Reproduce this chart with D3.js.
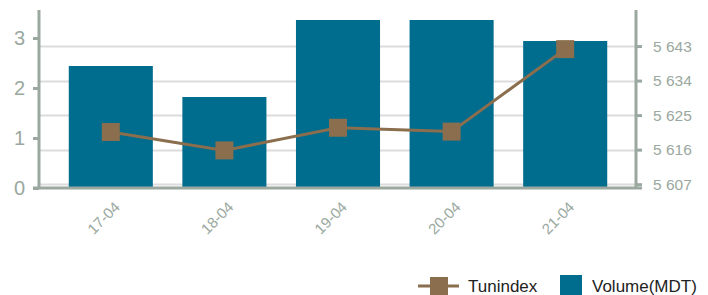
<!DOCTYPE html>
<html>
<head>
<meta charset="utf-8">
<script src="https://cdn.jsdelivr.net/npm/d3@7"></script>
<style>
	body { margin: 0; background: #fff; }
	text { font-family: "Liberation Sans", Arial, sans-serif; }
</style>
</head>
<body>
<script>
	var categories = ["17-04", "18-04", "19-04", "20-04", "21-04"];
	var volume = [2.44, 1.82, 3.36, 3.36, 2.94];
	var tunindex = [5620.6, 5615.8, 5621.7, 5620.7, 5642.2];
	var leftTicks = [0, 1, 2, 3];
	var rightTicks = [5607, 5616, 5625, 5634, 5643];

	(function(d3) {
	var width = 708;
	var height = 295;
	var axisColor = "#9aa8a0";
	var barColor = "#006c8e";
	var lineColor = "#8a6e4d";

	var svg = d3.select("body").append("svg")
		.attr("width", width)
		.attr("height", height);

	var plotLeft = 39, plotRight = 636, plotTop = 10, plotBottom = 188;

	var x = d3.scaleBand()
		.domain(categories)
		.range([54, 622])
		.paddingInner(0.26)
		.paddingOuter(0.13);

	var yLeft = d3.scaleLinear().domain([0, 3.56]).range([plotBottom, plotTop]);
	var yRight = d3.scaleLinear().domain([5606, 5652.4]).range([plotBottom, plotTop]);

	// grid lines follow the right axis
	svg.append("g").selectAll("line")
		.data(rightTicks)
		.enter().append("line")
		.attr("x1", plotLeft + 1)
		.attr("x2", plotRight - 1)
		.attr("y1", function(d) { return Math.round(yRight(d)) + 0.5; })
		.attr("y2", function(d) { return Math.round(yRight(d)) + 0.5; })
		.attr("stroke", "#dcdcdc")
		.attr("stroke-width", 2);

	// bars
	svg.append("g").selectAll("rect")
		.data(volume)
		.enter().append("rect")
		.attr("x", function(d, i) { return x(categories[i]); })
		.attr("width", x.bandwidth())
		.attr("y", function(d) { return yLeft(d); })
		.attr("height", function(d) { return plotBottom - yLeft(d); })
		.attr("fill", barColor);

	// left axis
	var gl = svg.append("g").attr("transform", "translate(" + plotLeft + ",0)");
	gl.call(d3.axisLeft(yLeft).tickValues(leftTicks).tickSize(6).tickPadding(8).tickFormat(d3.format("d")));
	gl.select(".domain").remove();
	gl.append("line").attr("x1", 0).attr("x2", 0).attr("y1", plotTop).attr("y2", plotBottom)
		.attr("stroke", axisColor).attr("stroke-width", 3);
	gl.selectAll(".tick line").attr("stroke", axisColor).attr("stroke-width", 3);
	gl.selectAll(".tick text").attr("fill", axisColor).attr("font-size", "20px");

	// right axis
	var gr = svg.append("g").attr("transform", "translate(" + plotRight + ",0)");
	gr.call(d3.axisRight(yRight).tickValues(rightTicks).tickSize(6).tickPadding(11)
		.tickFormat(function(d) { return d3.format(",")(d).replace(",", " "); }));
	gr.select(".domain").remove();
	gr.append("line").attr("x1", 0).attr("x2", 0).attr("y1", plotTop).attr("y2", plotBottom)
		.attr("stroke", axisColor).attr("stroke-width", 3);
	gr.selectAll(".tick line").attr("stroke", axisColor).attr("stroke-width", 3);
	gr.selectAll(".tick text").attr("fill", axisColor).attr("font-size", "15.5px");

	// bottom axis line
	svg.append("line")
		.attr("x1", 33).attr("x2", plotRight + 6)
		.attr("y1", plotBottom).attr("y2", plotBottom)
		.attr("stroke", axisColor).attr("stroke-width", 3);

	// x labels
	svg.append("g").selectAll("text")
		.data(categories)
		.enter().append("text")
		.attr("transform", function(d) {
			return "translate(" + (x(d) + x.bandwidth() / 2 + 10) + ",208) rotate(-45)";
		})
		.attr("text-anchor", "end")
		.attr("fill", axisColor)
		.attr("font-size", "15px")
		.text(function(d) { return d; });

	// line series
	var line = d3.line()
		.x(function(d, i) { return x(categories[i]) + x.bandwidth() / 2; })
		.y(function(d) { return yRight(d); });

	svg.append("path")
		.datum(tunindex)
		.attr("d", line)
		.attr("fill", "none")
		.attr("stroke", lineColor)
		.attr("stroke-width", 3);

	svg.append("g").selectAll("rect")
		.data(tunindex)
		.enter().append("rect")
		.attr("x", function(d, i) { return x(categories[i]) + x.bandwidth() / 2 - 9; })
		.attr("y", function(d) { return yRight(d) - 9; })
		.attr("width", 18)
		.attr("height", 18)
		.attr("fill", lineColor);

	// legend
	var legend = svg.append("g");
	legend.append("line")
		.attr("x1", 418).attr("x2", 459).attr("y1", 286).attr("y2", 286)
		.attr("stroke", lineColor).attr("stroke-width", 3);
	legend.append("rect")
		.attr("x", 430).attr("y", 277).attr("width", 18).attr("height", 18)
		.attr("fill", lineColor);
	legend.append("text")
		.attr("x", 468).attr("y", 292)
		.attr("font-size", "17px").attr("fill", "#222")
		.text("Tunindex");
	legend.append("rect")
		.attr("x", 560).attr("y", 275).attr("width", 22).attr("height", 22)
		.attr("fill", barColor);
	legend.append("text")
		.attr("x", 592).attr("y", 292)
		.attr("font-size", "17px").attr("fill", "#222")
		.text("Volume(MDT)");
	})(d3);
</script>
</body>
</html>
